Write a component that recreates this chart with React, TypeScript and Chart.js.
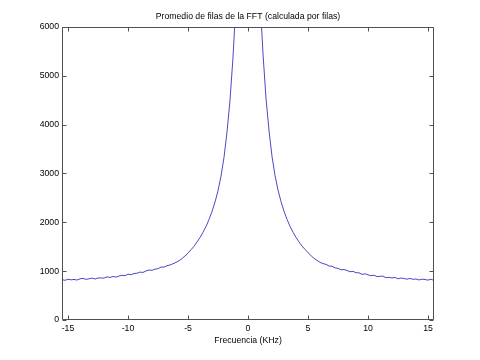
import React, { useEffect, useRef } from "react";
import { Chart, registerables } from "chart.js";

Chart.register(...registerables);

const titleText = "Promedio de filas de la FFT (calculada por filas)";
const xAxisLabel = "Frecuencia (KHz)";

const freqKHz = [
  -15.5, -15.25, -15, -14.75, -14.5, -14.25, -14, -13.75, -13.5, -13.25,
  -13, -12.75, -12.5, -12.25, -12, -11.75, -11.5, -11.25, -11, -10.75,
  -10.5, -10.25, -10, -9.75, -9.5, -9.25, -9, -8.75, -8.5, -8.25,
  -8, -7.75, -7.5, -7.25, -7, -6.75, -6.5, -6.25, -6, -5.75,
  -5.5, -5.25, -5, -4.75, -4.5, -4.25, -4, -3.75, -3.5, -3.25,
  -3, -2.75, -2.5, -2.25, -2, -1.75, -1.5, -1.25, -1, -0.75,
  -0.5, -0.25, 0, 0.25, 0.5, 0.75, 1, 1.25, 1.5, 1.75,
  2, 2.25, 2.5, 2.75, 3, 3.25, 3.5, 3.75, 4, 4.25,
  4.5, 4.75, 5, 5.25, 5.5, 5.75, 6, 6.25, 6.5, 6.75,
  7, 7.25, 7.5, 7.75, 8, 8.25, 8.5, 8.75, 9, 9.25,
  9.5, 9.75, 10, 10.25, 10.5, 10.75, 11, 11.25, 11.5, 11.75,
  12, 12.25, 12.5, 12.75, 13, 13.25, 13.5, 13.75, 14, 14.25,
  14.5, 14.75, 15, 15.25, 15.5,
];

const fftAverage = [
  826, 812, 836, 822, 830, 818, 843, 852, 832, 843,
  859, 838, 861, 861, 857, 884, 871, 891, 878, 900,
  915, 906, 939, 925, 952, 957, 981, 974, 1004, 1023,
  1017, 1042, 1051, 1084, 1083, 1112, 1126, 1152, 1180, 1214,
  1258, 1312, 1368, 1438, 1508, 1598, 1688, 1797, 1913, 2057,
  2220, 2415, 2645, 2945, 3330, 3850, 4500, 5380, 6500, 9100,
  14200, 24500, 31000, 25200, 14500, 9200, 6600, 5450, 4540, 3880,
  3350, 2960, 2660, 2425, 2228, 2062, 1920, 1798, 1692, 1597,
  1515, 1446, 1378, 1318, 1262, 1219, 1182, 1153, 1140, 1104,
  1100, 1067, 1058, 1028, 1034, 1015, 987, 997, 967, 967,
  934, 946, 925, 906, 917, 888, 895, 898, 866, 874,
  860, 871, 843, 860, 849, 836, 851, 833, 840, 819,
  837, 828, 817, 835, 810,
];

const xTickValues = [-15, -10, -5, 0, 5, 10, 15];
const yTickValues = [0, 1000, 2000, 3000, 4000, 5000, 6000];

const FONT = { family: "'Liberation Sans', Arial, Helvetica, sans-serif", size: 8.7 };
const AXIS_COLOR = "#505050";

const boxTicksPlugin = {
  id: "boxTicks",
  afterDatasetsDraw(chart: any) {
    const { ctx, chartArea: a, scales } = chart;
    const L = Math.round(a.left) + 0.5;
    const R = Math.round(a.right) - 0.5;
    const T = Math.round(a.top) + 0.5;
    const B = Math.round(a.bottom) - 0.5;
    const len = 4;
    ctx.save();
    ctx.strokeStyle = AXIS_COLOR;
    ctx.lineWidth = 1;
    ctx.beginPath();
    ctx.rect(L, T, R - L, B - T);
    xTickValues.forEach((v) => {
      const px = Math.round(scales.x.getPixelForValue(v)) + 0.5;
      ctx.moveTo(px, B);
      ctx.lineTo(px, B - len);
      ctx.moveTo(px, T);
      ctx.lineTo(px, T + len);
    });
    yTickValues.forEach((v) => {
      const py = Math.round(scales.y.getPixelForValue(v)) + 0.5;
      ctx.moveTo(L, py);
      ctx.lineTo(L + len, py);
      ctx.moveTo(R, py);
      ctx.lineTo(R - len, py);
    });
    ctx.stroke();
    ctx.restore();
  },
};

export default function App() {
  const canvasRef = useRef<HTMLCanvasElement | null>(null);

  useEffect(() => {
    document.body.style.margin = "0";
    document.body.style.background = "#ffffff";
    const canvas = canvasRef.current;
    if (!canvas) return;
    const points = freqKHz.map((f, i) => ({ x: f, y: fftAverage[i] }));
    const chart = new Chart(canvas, {
      type: "line",
      data: {
        datasets: [
          {
            data: points,
            borderColor: "#1c1cb4",
            borderWidth: 0.8,
            pointRadius: 0,
            tension: 0,
            fill: false,
          },
        ],
      },
      options: {
        animation: false,
        responsive: false,
        maintainAspectRatio: false,
        layout: { padding: { left: 0, right: 46, top: 0, bottom: 0 } },
        plugins: {
          legend: { display: false },
          tooltip: { enabled: false },
          title: {
            display: true,
            fullSize: false,
            text: titleText,
            color: "#000",
            font: { ...FONT, weight: "normal" },
            padding: { top: 11.5, bottom: 5 },
          },
        },
        scales: {
          x: {
            type: "linear",
            min: -15.5,
            max: 15.5,
            afterBuildTicks: (s: any) => {
              s.ticks = xTickValues.map((v) => ({ value: v }));
            },
            afterFit: (s: any) => {
              s.height = 40;
            },
            grid: { display: false, drawTicks: false },
            border: { display: false },
            ticks: {
              color: "#000",
              font: FONT,
              padding: 3,
              maxRotation: 0,
              autoSkip: false,
              callback: (v: any) => String(v),
            },
            title: {
              display: true,
              text: xAxisLabel,
              color: "#000",
              font: FONT,
              padding: { top: 0, bottom: 14 },
            },
          },
          y: {
            type: "linear",
            min: 0,
            max: 6000,
            afterBuildTicks: (s: any) => {
              s.ticks = yTickValues.map((v) => ({ value: v }));
            },
            afterFit: (s: any) => {
              s.width = 62;
            },
            grid: { display: false, drawTicks: false },
            border: { display: false },
            ticks: { color: "#000", font: FONT, padding: 3, callback: (v: any) => String(v) },
          },
        },
      },
      plugins: [boxTicksPlugin],
    });
    return () => chart.destroy();
  }, []);

  return (
    <div style={{ width: 480, height: 360, background: "#fff" }}>
      <canvas ref={canvasRef} width={480} height={360} style={{ display: "block" }} />
    </div>
  );
}
